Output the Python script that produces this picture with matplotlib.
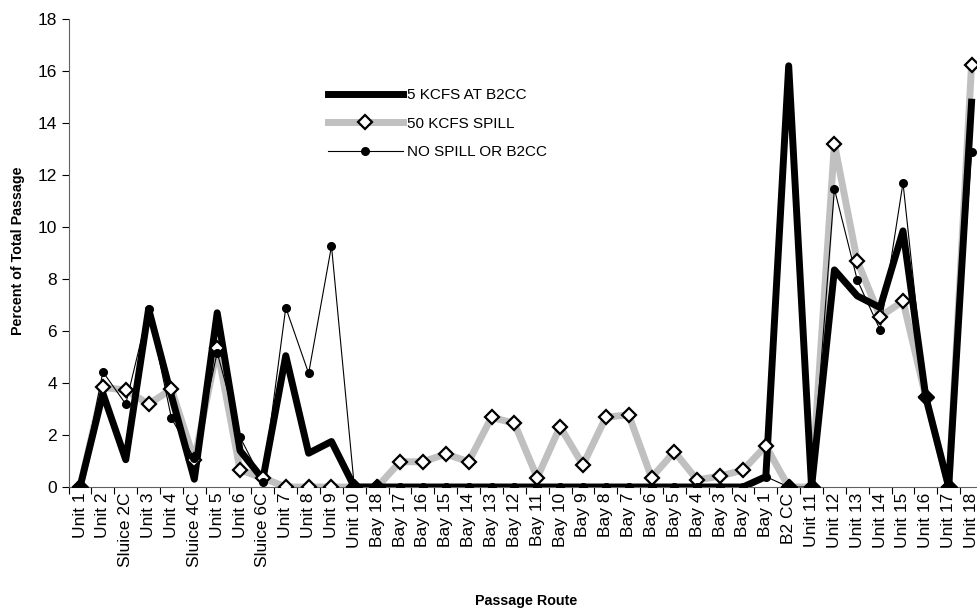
import numpy as np
import matplotlib
matplotlib.use("Agg")
import matplotlib.pyplot as plt

plt.rcParams['font.family'] = ['Liberation Sans', 'DejaVu Sans']

# passage routes, in the order they sit along the dam
routes = ['Unit 1', 'Unit 2', 'Sluice 2C', 'Unit 3', 'Unit 4', 'Sluice 4C', 'Unit 5',
          'Unit 6', 'Sluice 6C', 'Unit 7', 'Unit 8', 'Unit 9', 'Unit 10',
          'Bay 18', 'Bay 17', 'Bay 16', 'Bay 15', 'Bay 14', 'Bay 13', 'Bay 12',
          'Bay 11', 'Bay 10', 'Bay 9', 'Bay 8', 'Bay 7', 'Bay 6', 'Bay 5', 'Bay 4',
          'Bay 3', 'Bay 2', 'Bay 1', 'B2 CC', 'Unit 11', 'Unit 12', 'Unit 13',
          'Unit 14', 'Unit 15', 'Unit 16', 'Unit 17', 'Unit 18']

# percent of total passage for each scenario
kcfs5_b2cc = [0, 3.6, 1.05, 6.85, 3.5, 0.3, 6.7, 1.4, 0.3, 5.05, 1.3, 1.75, 0,
              0, 0, 0, 0, 0, 0, 0, 0, 0, 0, 0, 0, 0, 0, 0, 0, 0,
              0.4, 16.2, 0, 8.35, 7.35, 6.9, 9.85, 3.45, 0, 14.8]
kcfs50_spill = [0, 3.83, 3.73, 3.19, 3.76, 1.04, 5.33, 0.65, 0.35, 0, 0, 0, 0,
                0, 0.97, 0.97, 1.27, 0.97, 2.68, 2.45, 0.36, 2.32, 0.85, 2.68, 2.78,
                0.36, 1.36, 0.27, 0.42, 0.65,
                1.58, 0, 0, 13.2, 8.69, 6.55, 7.15, 3.45, 0, 16.25]
no_spill = [0, 4.43, 3.19, 6.85, 2.64, 1.1, 5.17, 1.92, 0.2, 6.9, 4.37, 9.27, 0,
            0, 0, 0, 0, 0, 0, 0, 0, 0, 0, 0, 0, 0, 0, 0, 0, 0,
            0.4, 0, 0, 11.46, 7.96, 6.04, 11.7, 3.45, 0, 12.9]

x = np.arange(len(routes))
a = np.array(kcfs5_b2cc)
b = np.array(kcfs50_spill)
c = np.array(no_spill)

fig = plt.figure(figsize=(9.78, 6.12), dpi=100)
ax = fig.add_axes([68.6 / 978, 125 / 612, 914.4 / 978, 468 / 612])

# lines first, markers on top (like Excel does it)
ax.plot(x, b, color='#c0c0c0', lw=5, zorder=1, solid_joinstyle='round')
ax.plot(x, a, color='black', lw=5, zorder=2, solid_joinstyle='round')
ax.plot(x, c, color='black', lw=0.8, zorder=3)
ax.plot(x, b, ls='none', marker='D', ms=7, mfc='white', mec='black', mew=1.6, zorder=4)
same = b == c
ax.plot(x[same], b[same], ls='none', marker='D', ms=8, mfc='black', mec='black', zorder=5)
ax.plot(x, c, ls='none', marker='o', ms=5.5, mfc='black', mec='black', zorder=6)

# legend proxies
h1, = ax.plot([], [], color='black', lw=5)
h2, = ax.plot([], [], color='#c0c0c0', lw=5, marker='D', ms=7, mfc='white', mec='black', mew=1.6)
h3, = ax.plot([], [], color='black', lw=0.8, marker='o', ms=5.5, mfc='black', mec='black')
fig.legend([h1, h2, h3], ['5 KCFS AT B2CC', '50 KCFS SPILL', 'NO SPILL OR B2CC'],
           loc='upper left', bbox_to_anchor=(328 / 978, 1 - 88 / 612), frameon=False,
           fontsize=11, handlelength=4.9, handletextpad=0.3, labelspacing=0.95,
           borderpad=0, borderaxespad=0)

ax.set_xlim(-0.5, len(routes) - 0.5)
ax.set_ylim(0, 18)
ax.set_yticks(np.arange(0, 19, 2))
ax.tick_params(axis='y', labelsize=12.5, direction='out', length=5, width=0.8)

# Excel style category axis: ticks between categories, labels centered
ax.set_xticks(np.arange(-0.5, len(routes), 1))
ax.set_xticklabels([])
ax.set_xticks(x, minor=True)
ax.set_xticklabels(routes, minor=True, rotation=90, fontsize=12.5)
ax.tick_params(axis='x', which='major', direction='out', length=5, width=0.8)
ax.tick_params(axis='x', which='minor', length=0, pad=4)

for s in ['top', 'right']:
    ax.spines[s].set_visible(False)
for s in ['left', 'bottom']:
    ax.spines[s].set_linewidth(0.8)
    ax.spines[s].set_color('#606060')

fig.text(18 / 978, 1 - 251 / 612, 'Percent of Total Passage', rotation=90, fontsize=10.3,
         fontweight='bold', ha='center', va='center')
fig.text(526 / 978, 1 - 601 / 612, 'Passage Route', fontsize=10.3, fontweight='bold',
         ha='center', va='center')

fig.savefig('out.png', dpi=100)
